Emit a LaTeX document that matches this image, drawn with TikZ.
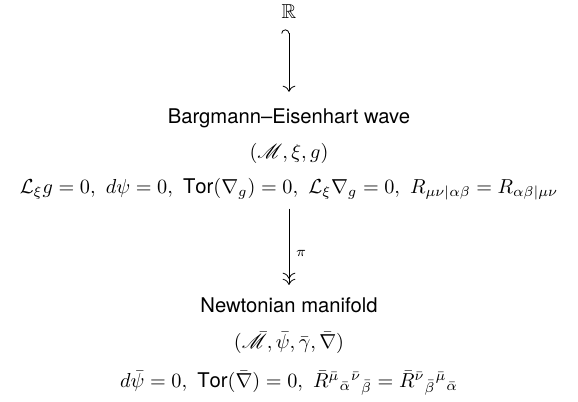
\documentclass[tikz,border=0pt]{standalone}
\usepackage{amssymb}
\usepackage{mathrsfs}
\usepackage{fontspec}
\setsansfont{TeX Gyre Heros}
\usetikzlibrary{arrows.meta,positioning}
\tikzset{
  spacename/.style={font=\sffamily,inner sep=2pt},
  mathline/.style={inner sep=2pt},
  incl/.style={{Hooks[left,length=2pt]}-{To[length=3pt]},shorten <=3pt,shorten >=6pt},
  proj/.style={-{To[length=3pt] To[length=3pt]},shorten <=2pt,shorten >=4pt}
}

\begin{document}
\begin{tikzpicture}[on grid]
  \useasboundingbox (-142.8pt,5.9pt) rectangle (142.8pt,-192.7pt);
  \node[mathline] (r) {$\mathbb{R}$};
  \node[spacename, below=52.4pt of r] (wave) {Bargmann--Eisenhart wave};
  \node[mathline, below=17.3pt of wave] (wavedata) {$(\mathscr{M},\xi,g)$};
  \node[mathline, below=17.8pt of wavedata] (waveeq) {$\mathcal{L}_\xi g=0,\ d\psi=0,\ \mathsf{Tor}(\nabla_g)=0,\ \mathcal{L}_\xi\nabla_g=0,\ R_{\mu\nu|\alpha\beta}=R_{\alpha\beta|\mu\nu}$};
  \node[spacename, below=57.3pt of waveeq] (newton) {Newtonian manifold};
  \node[mathline, below=18.8pt of newton] (newtondata) {$(\bar{\mathscr{M}},\bar{\psi},\bar{\gamma},\bar{\nabla})$};
  \node[mathline, below=19.8pt of newtondata] (newtoneq) {$d\bar{\psi}=0,\ \mathsf{Tor}(\bar{\nabla})=0,\ \bar{R}^{\bar{\mu}}{}_{\bar{\alpha}}{}^{\bar{\nu}}{}_{\bar{\beta}}=\bar{R}^{\bar{\nu}}{}_{\bar{\beta}}{}^{\bar{\mu}}{}_{\bar{\alpha}}$};
  \draw[incl] (r) -- (wave);
  \draw[proj] (waveeq) -- node[right,pos=0.55,font=\scriptsize] {$\pi$} (newton);
\end{tikzpicture}
\end{document}
